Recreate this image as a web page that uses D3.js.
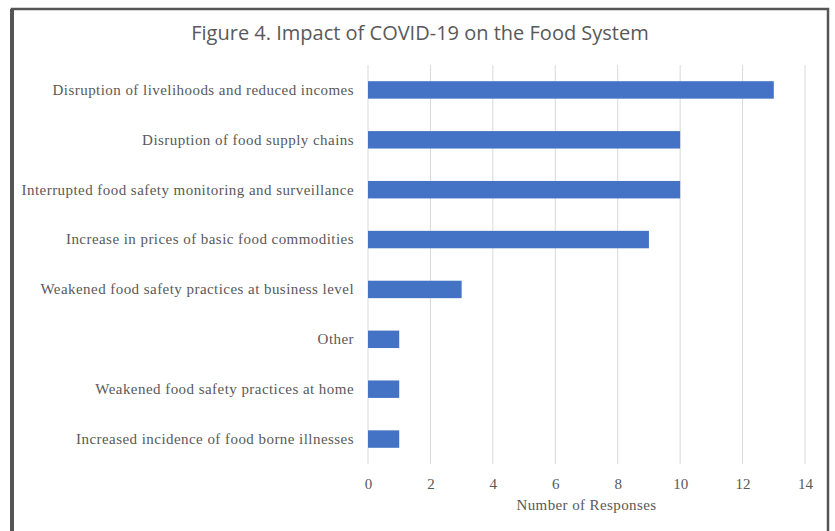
<!DOCTYPE html>
<html>
<head>
<meta charset="utf-8">
<script src="https://cdn.jsdelivr.net/npm/d3@7"></script>
<style>
  body { margin: 0; background: #fff; }
</style>
</head>
<body>
<svg width="835" height="531"></svg>
<script>
const categories = [
  "Disruption of livelihoods and reduced incomes",
  "Disruption of food supply chains",
  "Interrupted food safety monitoring and surveillance",
  "Increase in prices of basic food commodities",
  "Weakened food safety practices at business level",
  "Other",
  "Weakened food safety practices at home",
  "Increased incidence of food borne illnesses"
];
const responses = [13, 10, 10, 9, 3, 1, 1, 1];
const xTicks = [0, 2, 4, 6, 8, 10, 12, 14];

const svg = d3.select("svg");
const width = +svg.attr("width");
const height = +svg.attr("height");

// outer frame
svg.append("rect")
    .attr("x", 12).attr("y", 9)
    .attr("width", 816).attr("height", 530)
    .attr("fill", "#fff")
    .attr("stroke", "#555")
    .attr("stroke-width", 2.5);
svg.append("line")
    .attr("x1", 12).attr("x2", 12)
    .attr("y1", 9).attr("y2", height)
    .attr("stroke", "#555")
    .attr("stroke-width", 4);

const margin = {top: 65, right: 30, bottom: 67, left: 368};

let x = d3.scaleLinear().domain([0, 14]).range([margin.left, 805]);
let y = d3.scaleBand().domain(categories)
    .range([margin.top, height - margin.bottom])
    .paddingInner(0.65).paddingOuter(0.325);

// gridlines
svg.append("g")
    .selectAll("line")
    .data(xTicks)
    .enter().append("line")
      .attr("x1", d => x(d)).attr("x2", d => x(d))
      .attr("y1", margin.top).attr("y2", height - margin.bottom)
      .attr("stroke", "#d9d9d9")
      .attr("stroke-width", 1);

// bars
svg.append("g")
    .selectAll("rect")
    .data(categories)
    .enter().append("rect")
      .attr("x", x(0))
      .attr("y", d => y(d))
      .attr("width", (d, i) => x(responses[i]) - x(0))
      .attr("height", y.bandwidth())
      .attr("fill", "#4472c4");

// y labels
let yAxis = svg.append("g")
    .attr("transform", `translate(${margin.left - 14},0)`)
    .call(d3.axisLeft(y).tickSize(0).tickPadding(0));
yAxis.select(".domain").remove();
yAxis.selectAll("text")
    .attr("font-family", "'Liberation Serif', serif")
    .attr("font-size", 15)
    .attr("letter-spacing", 0.45)
    .attr("fill", "#595959");

// x labels
let xAxis = svg.append("g")
    .attr("transform", `translate(0,${height - margin.bottom})`)
    .call(d3.axisBottom(x).tickValues(xTicks).tickSize(0).tickPadding(14));
xAxis.select(".domain").remove();
xAxis.selectAll("text")
    .attr("font-family", "'Liberation Serif', serif")
    .attr("font-size", 15)
    .attr("fill", "#595959");

svg.append("text")
    .attr("x", x(7))
    .attr("y", 510)
    .attr("text-anchor", "middle")
    .attr("font-family", "'Liberation Serif', serif")
    .attr("font-size", 15)
    .attr("letter-spacing", 0.4)
    .attr("fill", "#595959")
    .text("Number of Responses");

svg.append("text")
    .attr("x", 420)
    .attr("y", 40)
    .attr("text-anchor", "middle")
    .attr("font-family", "'Open Sans', sans-serif")
    .attr("font-size", 20)
    .attr("fill", "#595959")
    .text("Figure 4. Impact of COVID-19 on the Food System");
</script>
</body>
</html>
